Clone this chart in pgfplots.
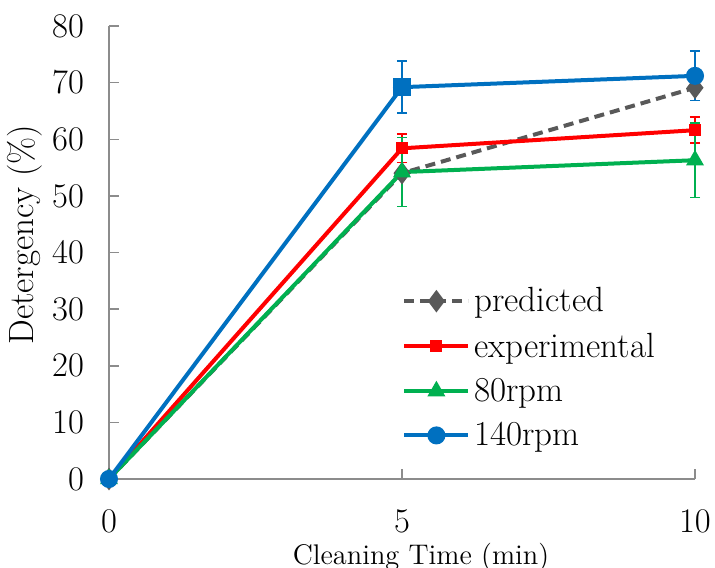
\documentclass[border=0pt]{standalone}
\usepackage{pgfplots}
\pgfplotsset{compat=1.18}
\definecolor{cblue}{HTML}{0070C0}
\definecolor{cred}{HTML}{FF0000}
\definecolor{cgreen}{HTML}{00B050}
\definecolor{cgray}{HTML}{595959}
\definecolor{caxis}{HTML}{8C8C8C}
\begin{document}
\begin{tikzpicture}
\path[use as bounding box] (-54.5pt,-44pt) rectangle (303pt,239.5pt);
\begin{axis}[
  at={(0pt,0pt)}, anchor=origin,
  scale only axis, width=293pt, height=226.5pt,
  xmin=0, xmax=10, ymin=0, ymax=80,
  xtick={0,5,10}, ytick={0,10,...,80},
  axis lines=left,
  axis line style={caxis, line width=0.75pt, -},
  every tick/.style={caxis, line width=0.75pt},
  tick align=inside, major tick length=5pt,
  clip=false,
  tick label style={font=\fontsize{16.5}{20}\selectfont},
  xticklabel style={yshift=-12pt},
  yticklabel style={xshift=-9pt},
  xlabel={Cleaning Time (min)},
  ylabel={Detergency (\%)},
  xlabel style={font=\fontsize{14.2}{16}\selectfont, at={(axis description cs:0.5,0)}, anchor=center, yshift=-39pt, xshift=9.5pt},
  ylabel style={font=\fontsize{17.5}{20}\selectfont, at={(axis description cs:0,0.539)}, anchor=center, rotate=0, yshift=42pt},
  legend style={at={(axis cs:5.0,34.6)}, anchor=north west, draw=none, fill=none,
    font=\fontsize{17.5}{20}\selectfont, row sep=5pt, inner sep=0pt,
    /tikz/every even column/.append style={column sep=5pt}},
  legend cell align=left,
  legend image code/.code={\draw[mark repeat=2,mark phase=2,#1] plot coordinates {(0pt,0pt) (16pt,0pt) (32pt,0pt)};},
  every axis plot/.append style={line width=2pt},
  error bars/error bar style={line width=0.8pt, solid},
  error bars/error mark options={rotate=90, mark size=2.6pt, line width=0.8pt, solid},
]
\addplot[cgray, dash pattern=on 5pt off 3pt, mark=diamond*, mark size=4pt, mark options={solid, fill=cgray}]
  coordinates {(0,0) (5,54) (10,69.1)};
\addlegendentry{predicted}
\addplot[cred, mark=square*, mark size=2pt, mark options={solid, fill=cred},
  error bars/.cd, y dir=both, y explicit]
  coordinates {(0,0) (5,58.4) +- (0,2.5) (10,61.6) +- (0,2.3)};
\addlegendentry{experimental}
\addplot[cgreen, mark=triangle*, mark size=3.2pt, mark options={solid, fill=cgreen},
  error bars/.cd, y dir=both, y explicit]
  coordinates {(0,0) (5,54.2) +- (0,6.1) (10,56.3) +- (0,6.6)};
\addlegendentry{80rpm}
\addplot[cblue, mark=*, mark size=3.5pt, mark options={solid, fill=cblue},
  error bars/.cd, y dir=both, y explicit]
  coordinates {(0,0) (5,69.2) +- (0,4.6) (10,71.2) +- (0,4.35)};
\addlegendentry{140rpm}
\addplot[cblue, only marks, mark=square*, mark size=3.5pt, mark options={fill=cblue}, forget plot]
  coordinates {(5,69.2)};
\end{axis}
\end{tikzpicture}
\end{document}
